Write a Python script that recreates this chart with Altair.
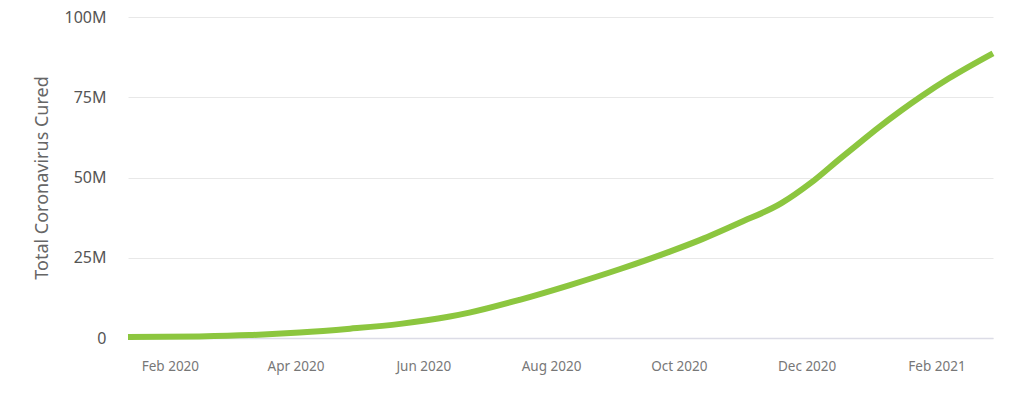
import altair as alt
import pandas as pd

dates = [
    "2020-01-12", "2020-02-15", "2020-03-10", "2020-04-03", "2020-04-27",
    "2020-05-21", "2020-06-13", "2020-06-23", "2020-07-17", "2020-08-10",
    "2020-09-03", "2020-09-27", "2020-10-11", "2020-10-30", "2020-11-19",
    "2020-12-03", "2020-12-17", "2020-12-27", "2021-01-04", "2021-01-15",
    "2021-01-25", "2021-02-07", "2021-02-28",
]
cured = [
    0.3, 0.5, 0.9, 1.7, 2.9,
    4.4, 6.6, 7.9, 11.9, 16.5,
    21.5, 27.0, 30.5, 35.9, 42.0,
    48.3, 55.9, 61.2, 65.4, 70.8,
    75.4, 80.9, 88.7,
]
y_ticks = [0, 25e6, 50e6, 75e6, 100e6]
x_ticks = ["2020-02-01", "2020-04-01", "2020-06-01", "2020-08-01",
           "2020-10-01", "2020-12-01", "2021-02-01"]

df = pd.DataFrame({"date": pd.to_datetime(dates), "cured": [v * 1e6 for v in cured]})

FONT = "Noto Sans"

line = alt.Chart(df).mark_line(
    color="#8cc63f", strokeWidth=6, interpolate="monotone"
).encode(
    x=alt.X(
        "date:T",
        title=None,
        scale=alt.Scale(domain=["2020-01-12", "2021-02-28"]),
        axis=alt.Axis(
            values=[pd.Timestamp(d).isoformat() for d in x_ticks],
            format="%b %Y",
            grid=False,
            ticks=False,
            domain=True,
            domainColor="#dcdce6",
            domainWidth=1.5,
            labelFont=FONT,
            labelFontSize=13.5,
            labelColor="#777777",
            labelPadding=21,
        ),
    ),
    y=alt.Y(
        "cured:Q",
        title="Total Coronavirus Cured",
        scale=alt.Scale(domain=[0, 100e6], nice=False),
        axis=alt.Axis(
            values=y_ticks,
            labelExpr="datum.value == 0 ? '0' : format(datum.value / 1e6, 'd') + 'M'",
            grid=True,
            gridColor="#e8e8e8",
            gridWidth=1,
            ticks=False,
            domain=False,
            labelFont=FONT,
            labelFontSize=16,
            labelColor="#555555",
            labelPadding=22,
            titleFont=FONT,
            titleFontSize=18,
            titleFontWeight="normal",
            titleColor="#666666",
            titlePadding=13,
        ),
    ),
)

bottom_rule = alt.Chart(df.head(1)).mark_rule(color="#eeeeee", strokeWidth=1.5).encode(
    x=alt.value(-120), x2=alt.value(882), y=alt.value(376)
)

chart = alt.layer(line, bottom_rule).properties(
    width=865,
    height=321,
    autosize=alt.AutoSizeParams(type="none"),
    padding={"left": 120, "top": 9, "right": 17, "bottom": 51},
).configure_view(stroke=None)

chart.save("out.html", embed_options={"renderer": "svg", "actions": False})
